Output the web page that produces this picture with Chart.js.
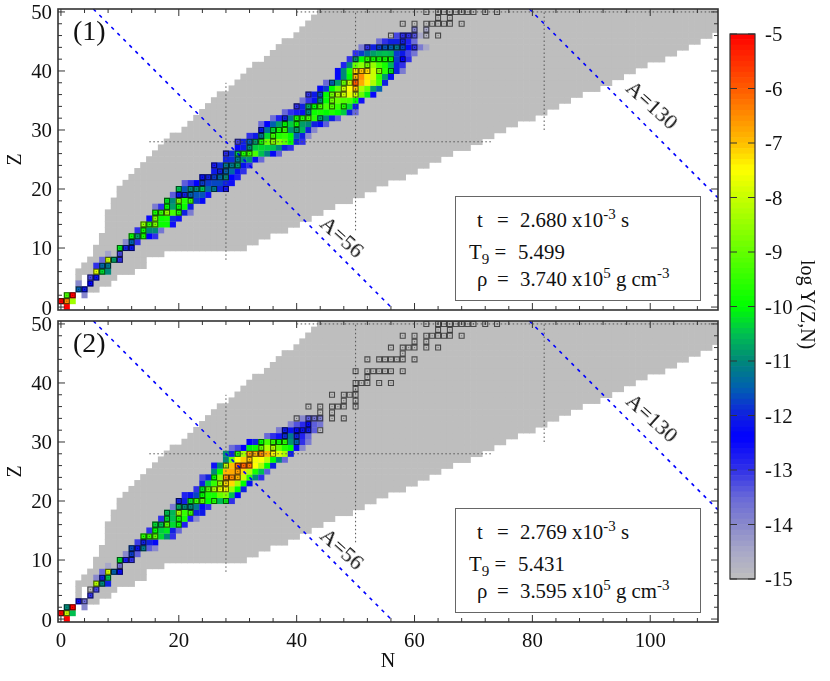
<!DOCTYPE html>
<html>
<head>
<meta charset="utf-8">
<title>log Y(Z,N)</title>
<script src="https://cdn.jsdelivr.net/npm/chart.js@4/dist/chart.umd.min.js"></script>
<style>
  html, body { margin: 0; padding: 0; background: #fff; }
  #page { position: relative; width: 830px; height: 681px; overflow: hidden; font-family: "Liberation Serif", serif; color: #111; }
  canvas { position: absolute; }
  .txt { position: absolute; white-space: nowrap; font-size: 20.8px; line-height: 1; }
  .txt sup { font-size: 15px; vertical-align: 8px; line-height: 0; }
  .txt sub { font-size: 15px; vertical-align: -5px; line-height: 0; }
  .box { position: absolute; left: 455px; width: 244px; height: 103px; border: 1px solid #666; background: #fff; }
  .tag { font-size: 28px; }
  .mass { font-size: 22px; transform: translate(-50%, -50%) rotate(42deg); }
</style>
</head>
<body>
<div id="page">
  <canvas id="panelOne" width="725" height="320" style="left:0;top:0"></canvas>
  <canvas id="panelTwo" width="725" height="369" style="left:0;top:312px"></canvas>
  <canvas id="scaleBar" width="105" height="600" style="left:725px;top:0"></canvas>
</div>

<script>
// axis ticks
const xTickLabels = [0, 20, 40, 60, 80, 100];
const yTickLabels = [0, 10, 20, 30, 40, 50];
const barTickLabels = [-15, -14, -13, -12, -11, -10, -9, -8, -7, -6, -5];

// grey network: lowest and highest Z per N, first entry is N = 3
const greyFirstN = 3;
const greyLowZ = [4, 6, 3, 3, 4, 4, 5, 6, 6, 6, 7, 7, 9, 9, 9, 10, 10, 10, 10, 10, 10, 10, 10, 10, 10, 10, 10, 10, 10,
  11, 11, 12, 12, 13, 13, 13, 14, 14, 15, 15, 16, 16, 17, 17, 18, 18, 18, 19, 19, 20, 20, 21, 21, 22, 22, 22, 23, 23,
  24, 24, 25, 25, 26, 26, 27, 27, 27, 28, 28, 29, 29, 30, 30, 31, 31, 32, 32, 32, 33, 33, 34, 34, 35, 35, 36, 36,
  37, 37, 37, 38, 38, 39, 39, 40, 40, 41, 41, 42, 42, 42, 43, 43, 44, 44, 45, 45, 46, 46, 47];
const greyHighZ = [6, 7, 8, 10, 12, 16, 18, 20, 21, 22, 23, 24, 25, 26, 27, 28, 29, 29, 30, 31, 32, 33, 34, 35, 36, 36,
  37, 38, 39, 40, 41, 41, 42, 43, 44, 45, 45, 46, 47, 48, 49];

// log Y per row, index is Z, first value of a row sits at the N given in the start list
const oneStartN = [1, 0, 1, 3, 3, 5, 6, 6, 7, 8, 10, 11, 12, 13, 14, 15, 16, 16, 18, 19, 20, 21, 24, 26, 26, 28, 28, 30, 30, 32,
  34, 34, 36, 38, 40, 41, 42, 44, 45, 47, 47, 48, 49, 50, 51, 54, 56, 60];
const oneLogY = [
  [-5],
  [-5, -6.5, -8.4],
  [-9.3, -5, null, -14],
  [-11.5, -12.1],
  [-14, null, -12.4],
  [-13.2, -12.2],
  [-7.8, -10.3, -11],
  [-13, -11.4, -11.2],
  [-13.5, -8, -10.8, -13],
  [-14.4, null, -13.2],
  [-10.2, -12, -12.2],
  [-14, -11.5, -13],
  [-9.9, -10.8, -9.8, -12.4, -13],
  [-13, -9.9, -11, -11, -13.7],
  [-8.6, -9.5, -8.8, -9.9, -9.9, -12.6],
  [-12.5, -8.8, -9.9, -9.8, -11.9, -12.6],
  [-9.8, -9.5, -8.6, -9.3, -9.7, -12, -13.8],
  [-13.8, -13, -10, -10.8, -10, -9.9, -12],
  [-10.2, -11, -8.8, -9.7, -9.5, -11.8, -12.3],
  [-13.4, -12.2, -12, -11.5, -11.6, -11.6, -12.6],
  [-10.5, -11.6, -11, -11, -10.5, -11.4, -11.2, -12, -12.6],
  [-13.4, -13, -12.4, -11.8, -11.8, -11.7, -11.7, -12, -12.6],
  [-12.2, -12, -11.8, -11.4, -11, -12.4, -12.8],
  [-12.1, -12, -11.5, -11.4, -12.2, -13],
  [-12.7, -11.9, -11.2, -11.2, -10.8, -12.2, -13],
  [-12, -11.9, -11.2, -11, -10.9, -12.2, -13.5],
  [-12.9, -11.9, -10.5, -9.7, -9.5, -9.3, -10.5, -11.1, -12.3, -13.4],
  [-12.5, -12.1, -11, -10.4, -10.3, -10.4, -10.5, -11, -12, -13],
  [-13.2, -12, -11.5, -10.8, -9.8, -9, -8.6, -8.7, -9.1, -10, -12, -13],
  [-13, -12.1, -11.2, -10.3, -9.4, -9.7, -9.5, -10, -11.5, -12, -14],
  [-12.2, -11.3, -10.3, -9.8, -9.5, -10.9, -10.8, -10.6, -12, -14],
  [-13.5, -12.4, -11.5, -10.8, -10, -10.4, -9.9, -10.8, -11, -12, -12.3, -13.4],
  [-13.6, -12.8, -12, -11.2, -9.8, -9.6, -9.3, -9.6, -10.7, -11, -12, -13.4],
  [-13.5, -13, -12.7, -12.2, -11, -9.9, -9.8, -10, -9.7, -10, -10.4, -12, -13.5],
  [-13, -12, -10.7, -10, -9.4, -9.3, -9.2, -9.5, -9.7, -10.3, -12],
  [-13.7, -13, -12.2, -11, -10, -8.9, -9, -9.2, -9.3, -10, -12.6],
  [-13, -12.1, -11.6, -10, -8.9, -8.3, -8, -7.7, -7.9, -9, -10.1, -12.5],
  [-12.3, -11.8, -10, -9, -8, -7.5, -7, -8.3, -9, -10.8, -11.5],
  [-13.5, -11.5, -10.8, -9, -8, -6, -6.8, -7.4, -8.3, -9.3, -12],
  [-12.3, -11, -10, -6.9, -6.5, -7.3, -8, -9.5, -10.8, -12.2],
  [-12.3, -11, -9.7, -7.2, -7, -7.2, -8, -8.6, -9.6, -10.2, -12, -13.8],
  [-12.8, -11, -9, -8.6, -8.9, -8.5, -9.3, -9.8, -10.6, -12, -13],
  [-13, -10.9, -10, -9.6, -9.8, -9.8, -9.8, -9.9, -11.8, -12.4, -13],
  [-13, -11.8, -11.3, -10.8, -10.6, -10.5, -10.6, -11.8, -12.1, -13.2, -13.7],
  [-13.8, -13, -12, -11.8, -11.6, -11.5, -11.2, -11.7, -12.3, -13, -13.8, -14.5],
  [-13.6, -13, -12, -12, -12, -12.8, -13.6],
  [-14.9, -13.2, -13, -13, -13.3, -14.5, -14.8],
  [-13.9, null, -14.5]
];

const twoStartN = [1, 0, 1, 3, 5, 5, 6, 6, 7, 8, 10, 11, 12, 13, 14, 15, 16, 17, 18, 19, 20, 21, 23, 24, 24, 26, 26, 28, 28, 29,
  32, 35, 37, 39, 40];
const twoLogY = [
  [-5],
  [-5, -8, -10.5],
  [-11, -5, null, -14],
  [-12.6, -13.6],
  [-13],
  [-14.9, -13.2],
  [-8.2, -11, -12],
  [-14, -12, -10.5],
  [-13.5, -7.9, -11.5, -12.5],
  [-14.5, null, -13.7],
  [-10.3, -12.7, -13],
  [-14, -11.8, -13.4],
  [-11.7, -12.2, -11.2, -13.4, -14],
  [-13.1, -12, -12, -12.3],
  [-9.6, -9.5, -9.1, -10.3, -11, -13],
  [-13, -10, -10.4, -10.2, -12, -13.5],
  [-10.3, -10.5, -9.2, -10.3, -9.9, -12.8],
  [-13, -10.3, -10.5, -9.8, -9.8, -12.8, -14],
  [-10.5, -10.6, -8.4, -9.5, -9.5, -12, -12.1],
  [-13.8, -10.7, -11, -11, -11.2, -12.3, -13],
  [-12, -12, -10.2, -9.5, -9.2, -10, -9.7, -10.6, -10.1, -13],
  [-12.8, -12.2, -11.7, -10, -9.8, -9.8, -9, -8.7, -10.5, -12.4],
  [-13, -10.2, -9.2, -8.3, -7.7, -7.5, -8.5, -10, -12],
  [-12, -10.4, -9.5, -8.4, -7.2, -7.2, -8.4, -10, -12.2],
  [-13.2, -12, -10, -8.7, -6.5, -6.5, -6.9, -8, -9.6, -11, -13],
  [-11, -10, -6.9, -6.8, -6.7, -7.2, -8.2, -9.8, -10.5, -13.4],
  [-12.6, -11, -8.2, -7, -6.2, -6.1, -6.3, -7.5, -8.3, -10, -12],
  [-11, -9, -7.5, -7.1, -7, -7.6, -7.5, -8.2, -10, -11, -13.5],
  [-10.9, -12, -9.6, -8.4, -6.7, -6.9, -6.5, -6.9, -7.5, -7.8, -8.3, -12],
  [-13.6, -13.2, -12.4, -10.1, -9.9, -9, -8.3, -8.3, -9, -9.7, -10, -12.3, -14],
  [-12.4, -12, -10, -9.3, -9.5, -9.9, -9.6, -10.9, -11.5, -13, -13.8],
  [-13.5, -13, -12.6, -11.9, -11.2, -12, -12.8, -13.5],
  [-13.8, -12.1, -12.2, -12.3, -12.2, -12.1, -13.4, -14.9],
  [-13.9, -13.3, -12.9, -12.3, -13.4, -13.7],
  [-14.9, -14, -13.4, -13.7, -13.9]
];

// outlined squares, index is Z, values are N
const outlinedN = [
  [], [0, 1], [1, 2], [3, 4], [5], [5, 6], [6, 7], [7, 8], [8, 9, 10], [10], [10, 11, 12], [12], [12, 13, 14], [14],
  [14, 15, 16], [16], [16, 17, 18, 20], [18, 20], [18, 20, 22], [20, 21, 22], [20, 22, 23, 24, 26, 28], [24],
  [24, 25, 26, 27, 28], [27, 28], [26, 28, 29, 30], [30], [28, 30, 31, 32], [32], [30, 32, 33, 34, 36], [34, 36],
  [34, 36, 37, 38, 40], [38, 40], [38, 40, 41, 42, 44], [42], [40, 42, 43, 44, 46, 48], [44, 46], [42, 44, 46, 47, 48, 50],
  [48, 50], [46, 48, 49, 50], [50], [50, 51, 52, 54, 56], [52], [50, 52, 53, 54, 55, 56, 58], [], [52, 54, 55, 56, 57, 58, 60],
  [58], [56, 58, 59, 60, 62, 64], [60, 62], [58, 60, 62, 63, 64, 65, 66, 68], [64, 66], [62, 64, 65, 66, 67, 68, 69, 70, 72, 74]
];

// guide lines
const massNumbers = [56, 130];
const closedN = [28, 50, 82];
const closedNLow = [8, 13, 30];
const closedNHigh = [38, 50, 50];
const closedZ = [28, 50];
const closedZLow = [15, 40];
const closedZHigh = [73, 112];

// colour stops of the scale
const stopValue = [-15, -14.5, -14, -13.5, -13, -12.4, -12, -11.5, -11, -10.5, -10, -9, -8, -7.5, -7, -6, -5];
const stopRed = [190, 168, 136, 104, 48, 0, 16, 0, 0, 0, 0, 100, 200, 255, 255, 255, 255];
const stopGreen = [190, 168, 136, 104, 48, 0, 32, 96, 136, 192, 255, 255, 255, 255, 190, 90, 0];
const stopBlue = [190, 200, 204, 216, 232, 255, 224, 176, 120, 80, 0, 0, 0, 0, 0, 0, 0];

const fontName = '"Liberation Serif", serif';

function logColor(v) {
    let i = 0;
    while (i < stopValue.length - 2 && v > stopValue[i + 1]) i++;
    const f = Math.min(1, Math.max(0, (v - stopValue[i]) / (stopValue[i + 1] - stopValue[i])));
    const mix = function (a) { return Math.round(a[i] + (a[i + 1] - a[i]) * f); };
    return `rgb(${mix(stopRed)},${mix(stopGreen)},${mix(stopBlue)})`;
}

function greyCells() {
    const cells = [];
    greyLowZ.forEach(function (low, i) {
        const n = greyFirstN + i;
        const high = i < greyHighZ.length ? greyHighZ[i] : 50;
        for (let z = low; z <= high; z++) cells.push({ x: n, y: z });
    });
    return cells;
}

function heatCells(startN, rows) {
    const cells = [];
    rows.forEach(function (row, z) {
        row.forEach(function (v, i) {
            if (v !== null) cells.push({ x: startN[z] + i, y: z, v: v });
        });
    });
    return cells;
}

function outlinedCells() {
    const cells = [];
    outlinedN.forEach(function (list, z) {
        list.forEach(function (n) { cells.push({ x: n, y: z }); });
    });
    return cells;
}

function guideSets() {
    const sets = [];
    const dotted = { showLine: true, pointRadius: 0, borderColor: '#555', borderWidth: 1, borderDash: [1.5, 2.5], order: 3 };
    closedN.forEach(function (n, i) {
        sets.push(Object.assign({ data: [{ x: n, y: closedNLow[i] }, { x: n, y: closedNHigh[i] }] }, dotted));
    });
    closedZ.forEach(function (z, i) {
        sets.push(Object.assign({ data: [{ x: closedZLow[i], y: z }, { x: closedZHigh[i], y: z }] }, dotted));
    });
    massNumbers.forEach(function (a) {
        sets.push({
            data: [{ x: a - 50.5, y: 50.5 }, { x: a + 0.5, y: -0.5 }],
            showLine: true, pointRadius: 0, borderColor: '#0000ff', borderWidth: 1.6, borderDash: [3.5, 5], order: 2
        });
    });
    return sets;
}

// frame and inward ticks, read through the chart's own scales
const frameTicks = {
    id: 'frameTicks',
    afterDatasetsDraw(chart, args, opts) {
        const a = chart.chartArea;
        const c = chart.ctx;
        c.save();
        c.strokeStyle = '#333';
        c.lineWidth = 1;
        c.beginPath();
        (opts.xValues || []).forEach(function (v) {
            const px = chart.scales.x.getPixelForValue(v);
            const len = v % 20 === 0 ? 7 : 4;
            c.moveTo(px, a.bottom); c.lineTo(px, a.bottom - len);
            c.moveTo(px, a.top); c.lineTo(px, a.top + len);
        });
        (opts.yValues || []).forEach(function (v) {
            const py = chart.scales.y.getPixelForValue(v);
            const len = opts.yLen ? opts.yLen : (v % 10 === 0 ? 7 : 4);
            c.moveTo(a.left, py); c.lineTo(a.left + len, py);
            c.moveTo(a.right, py); c.lineTo(a.right - len, py);
        });
        c.stroke();
        c.lineWidth = opts.frame || 1.6;
        c.strokeRect(a.left, a.top, a.right - a.left, a.bottom - a.top);
        c.restore();
    }
};

function numberList(from, to, step) {
    const list = [];
    for (let v = from; v <= to; v += step) list.push(v);
    return list;
}

function drawPanel(id, startN, rows, showX, xHeight) {
    const cells = heatCells(startN, rows);
    const marks = outlinedCells();
    new Chart(document.getElementById(id), {
        type: 'scatter',
        data: {
            datasets: [
                { data: greyCells(), pointStyle: 'rect', pointRadius: 4.6, pointBorderWidth: 0, pointBackgroundColor: '#bebebe', order: 5 },
                { data: cells, pointStyle: 'rect', pointRadius: 4.3, pointBorderWidth: 0, pointBackgroundColor: cells.map(function (d) { return logColor(d.v); }), order: 4 }
            ].concat(guideSets(), [
                { data: marks, pointStyle: 'rect', pointRadius: 3.5, pointBorderWidth: 1.1, pointBackgroundColor: 'rgba(0,0,0,0)', pointBorderColor: 'rgba(0,0,0,0.62)', order: 1 },
                { data: marks, pointStyle: 'circle', pointRadius: 0.6, pointBorderWidth: 0, pointBackgroundColor: 'rgba(0,0,0,0.45)', order: 0 }
            ])
        },
        options: {
            responsive: false,
            animation: false,
            events: [],
            layout: { padding: { top: 9, right: 7, left: 0, bottom: 0 } },
            plugins: {
                legend: { display: false },
                tooltip: { enabled: false },
                frameTicks: { xValues: numberList(0, 108, 4), yValues: numberList(0, 50, 2) }
            },
            scales: {
                x: {
                    type: 'linear',
                    min: -0.5,
                    max: 111.5,
                    grid: { display: false, drawTicks: false },
                    border: { display: false },
                    afterBuildTicks: function (s) { s.ticks = xTickLabels.map(function (v) { return { value: v }; }); },
                    afterFit: function (s) { s.height = xHeight; s.paddingLeft = 0; s.paddingRight = 0; },
                    ticks: { display: showX, maxRotation: 0, autoSkip: false, padding: 7, color: '#111', font: { family: fontName, size: 20.8 } },
                    title: { display: showX, text: 'N', color: '#111', font: { family: fontName, size: 20 }, padding: { top: 2, bottom: 7 } }
                },
                y: {
                    type: 'linear',
                    min: -0.5,
                    max: 50.5,
                    grid: { display: false, drawTicks: false },
                    border: { display: false },
                    afterBuildTicks: function (s) { s.ticks = yTickLabels.map(function (v) { return { value: v }; }); },
                    afterFit: function (s) { s.width = 58; s.paddingTop = 0; s.paddingBottom = 0; },
                    ticks: { padding: 6, labelOffset: 2, autoSkip: false, color: '#111', font: { family: fontName, size: 20.8 } },
                    title: { display: true, text: 'Z', color: '#111', font: { family: fontName, size: 20 }, padding: { top: 4, bottom: 0 } }
                }
            }
        },
        plugins: [frameTicks]
    });
}

function drawScaleBar() {
    const levels = numberList(0, 99, 1).map(function (i) { return -15 + i / 10; });
    new Chart(document.getElementById('scaleBar'), {
        type: 'bar',
        data: {
            labels: [''],
            datasets: levels.map(function (low) {
                return { data: [[low, low + 0.1]], backgroundColor: logColor(low + 0.05), barPercentage: 1, categoryPercentage: 1, grouped: false, borderSkipped: false };
            })
        },
        options: {
            responsive: false,
            animation: false,
            events: [],
            layout: { padding: { top: 34, left: 5, bottom: 21, right: 0 } },
            plugins: {
                legend: { display: false },
                tooltip: { enabled: false },
                frameTicks: { yValues: barTickLabels, yLen: 7, frame: 1.2 }
            },
            scales: {
                x: { display: false },
                y: {
                    position: 'right',
                    min: -15,
                    max: -5,
                    grid: { display: false, drawTicks: false },
                    border: { display: false },
                    afterBuildTicks: function (s) { s.ticks = barTickLabels.map(function (v) { return { value: v }; }); },
                    afterFit: function (s) { s.width = 75; s.paddingTop = 0; s.paddingBottom = 0; },
                    ticks: { padding: 10, labelOffset: 2, autoSkip: false, color: '#111', font: { family: fontName, size: 20.8 } }
                }
            }
        },
        plugins: [frameTicks]
    });
}

// text that sits over the panels
function addText(html, left, top, cls) {
    const el = document.createElement('div');
    el.className = 'txt ' + (cls || '');
    el.style.left = left + 'px';
    el.style.top = top + 'px';
    el.innerHTML = html;
    document.getElementById('page').appendChild(el);
    return el;
}

function addBox(top, tag, t, temp, rho) {
    const box = document.createElement('div');
    box.className = 'box';
    box.style.top = top + 'px';
    document.getElementById('page').appendChild(box);
    addText('t', 477, top + 14);
    addText('=', 497, top + 14);
    addText(t + ' x10<sup>-3</sup> s', 520, top + 14);
    addText('T<sub>9</sub> =', 469, top + 46);
    addText(temp, 518, top + 46);
    addText('ρ', 477, top + 73);
    addText('=', 497, top + 73);
    addText(rho + ' x10<sup>5</sup> g cm<sup>-3</sup>', 520, top + 73);
    addText(tag, 73, top - 179, 'tag');
}

drawPanel('panelOne', oneStartN, oneLogY, false, 10);
drawPanel('panelTwo', twoStartN, twoLogY, true, 59);
drawScaleBar();

addBox(196, '(1)', '2.680', '5.499', '3.740');
addBox(508, '(2)', '2.769', '5.431', '3.595');
addText('A=56', 342, 237, 'mass');
addText('A=56', 342, 549, 'mass');
addText('A=130', 652, 105, 'mass');
addText('A=130', 652, 418, 'mass');
const barTitle = addText('log Y(Z,N)', 798, 260);
barTitle.style.writingMode = 'vertical-rl';
barTitle.style.fontSize = '20px';
</script>
</body>
</html>
